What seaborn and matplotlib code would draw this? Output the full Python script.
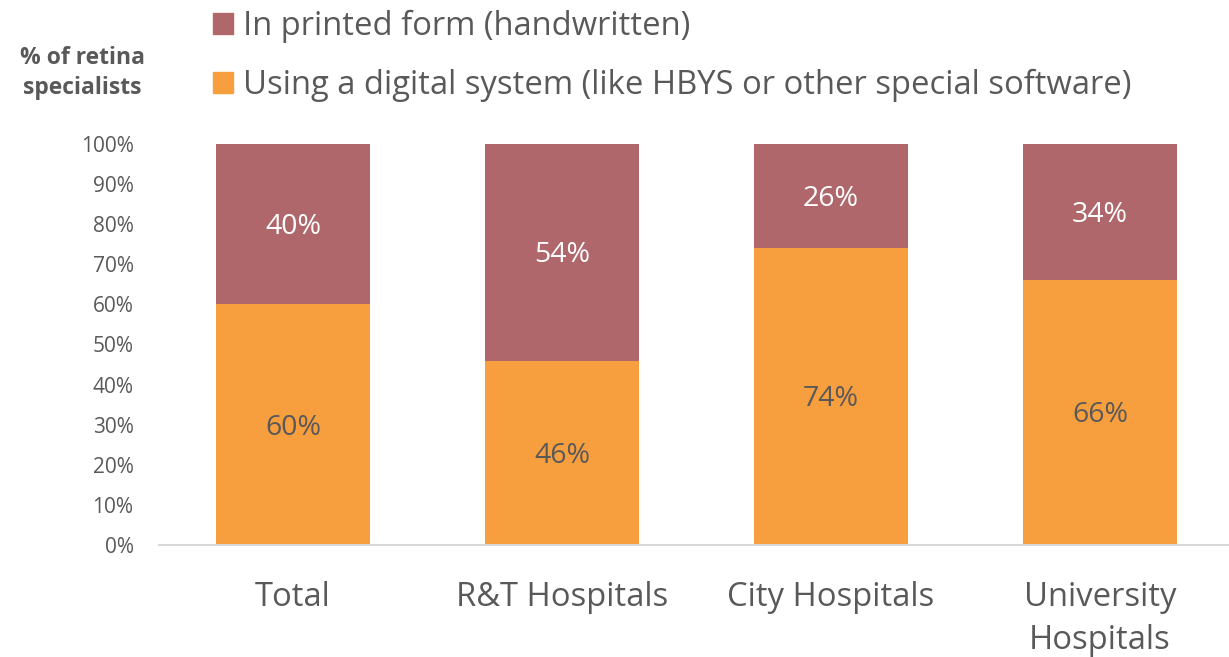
import matplotlib
matplotlib.use("Agg")
import matplotlib.pyplot as plt
import matplotlib.patches as mpatches
import seaborn as sns
import pandas as pd

categories = ["Total", "R&T Hospitals", "City Hospitals", "University\nHospitals"]
digital = [60, 46, 74, 66]
printed = [40, 54, 26, 34]
series_names = ["In printed form (handwritten)",
                "Using a digital system (like HBYS or other special software)"]
yticks = [0, 10, 20, 30, 40, 50, 60, 70, 80, 90, 100]

RED = "#AF676C"
ORANGE = "#F79F3E"
GRAY = "#595959"

sns.set_theme(style="white")
plt.rcParams["font.family"] = ["Open Sans", "DejaVu Sans"]

df = pd.DataFrame({"cat": categories, "digital": digital, "printed": printed})
df["total"] = df["digital"] + df["printed"]

fig = plt.figure(figsize=(12.29, 6.57), dpi=100)
ax = fig.add_axes([158.5 / 1229, 1 - 545 / 657, (1229 - 158.5) / 1229, 401 / 657])

sns.barplot(data=df, x="cat", y="total", color=RED, width=0.57, ax=ax,
            saturation=1, linewidth=0)
sns.barplot(data=df, x="cat", y="digital", color=ORANGE, width=0.57, ax=ax,
            saturation=1, linewidth=0)

for i, (d, p) in enumerate(zip(digital, printed)):
    ax.text(i, d / 2 - 0.7, f"{d}%", ha="center", va="center", fontsize=20.5, color=GRAY)
    ax.text(i, d + p / 2 - 0.7, f"{p}%", ha="center", va="center", fontsize=20.5, color="white")

ax.set_xlim(-0.5, 3.48)
ax.set_ylim(0, 100)
ax.set_yticks(yticks)
ax.set_yticklabels([f"{t}%" for t in yticks], fontsize=15, color=GRAY)
ax.tick_params(axis="y", length=0, pad=18)
ax.tick_params(axis="x", length=0, pad=26, labelsize=23.6, labelcolor=GRAY)
for lbl in ax.get_xticklabels():
    lbl.set_linespacing(1.4)
ax.set_xlabel("")
ax.set_ylabel("")
for s in ["top", "right", "left"]:
    ax.spines[s].set_visible(False)
ax.spines["bottom"].set_color("#D9D9D9")
ax.spines["bottom"].set_linewidth(1.5)

fig.text(82 / 1229, 1 - 73 / 657, "% of retina\nspecialists", ha="center", va="center",
         fontsize=16.5, fontweight="bold", color=GRAY, linespacing=1.35)

handles = [mpatches.Patch(color=RED, label=series_names[0]),
           mpatches.Patch(color=ORANGE, label=series_names[1])]
leg = fig.legend(handles=handles, loc="upper left",
                 bbox_to_anchor=(200 / 1229, 1 + 3 / 657), frameon=False,
                 fontsize=23.6, labelcolor=GRAY, handlelength=0.6, handleheight=0.6,
                 handletextpad=0.3, labelspacing=0.78, borderaxespad=0)

fig.savefig("out.png", dpi=100)
